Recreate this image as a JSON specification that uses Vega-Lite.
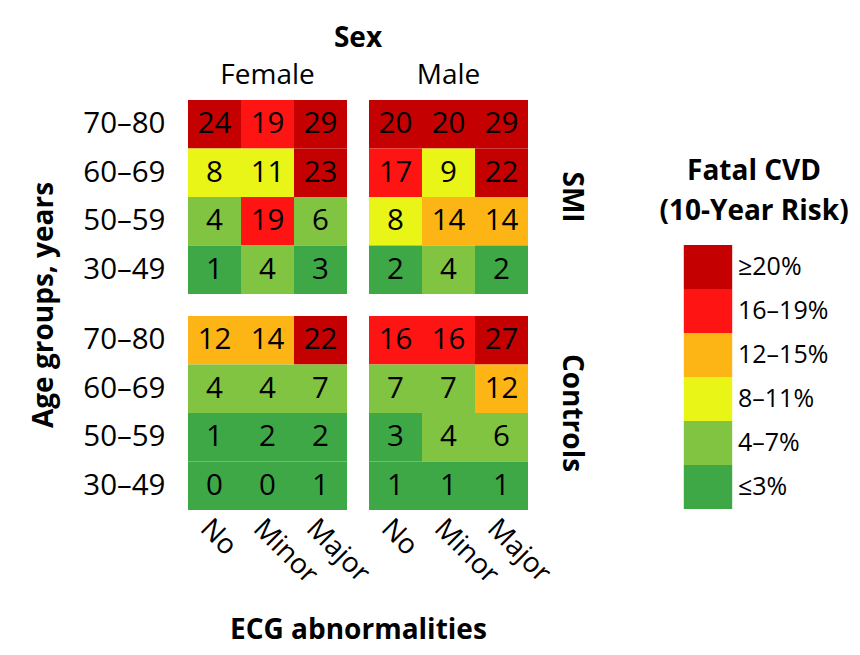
{
  "$schema": "https://vega.github.io/schema/vega-lite/v6.json",
  "background": "white",
  "padding": {"left": 30, "top": 25, "right": 5, "bottom": 5},
  "data": {
    "values": [
      {"group": "SMI", "sex": "Female", "age": "70–80", "ecg": "No", "risk": 24, "band": "≥20%"},
      {"group": "SMI", "sex": "Female", "age": "70–80", "ecg": "Minor", "risk": 19, "band": "16–19%"},
      {"group": "SMI", "sex": "Female", "age": "70–80", "ecg": "Major", "risk": 29, "band": "≥20%"},
      {"group": "SMI", "sex": "Female", "age": "60–69", "ecg": "No", "risk": 8, "band": "8–11%"},
      {"group": "SMI", "sex": "Female", "age": "60–69", "ecg": "Minor", "risk": 11, "band": "8–11%"},
      {"group": "SMI", "sex": "Female", "age": "60–69", "ecg": "Major", "risk": 23, "band": "≥20%"},
      {"group": "SMI", "sex": "Female", "age": "50–59", "ecg": "No", "risk": 4, "band": "4–7%"},
      {"group": "SMI", "sex": "Female", "age": "50–59", "ecg": "Minor", "risk": 19, "band": "16–19%"},
      {"group": "SMI", "sex": "Female", "age": "50–59", "ecg": "Major", "risk": 6, "band": "4–7%"},
      {"group": "SMI", "sex": "Female", "age": "30–49", "ecg": "No", "risk": 1, "band": "≤3%"},
      {"group": "SMI", "sex": "Female", "age": "30–49", "ecg": "Minor", "risk": 4, "band": "4–7%"},
      {"group": "SMI", "sex": "Female", "age": "30–49", "ecg": "Major", "risk": 3, "band": "≤3%"},
      {"group": "SMI", "sex": "Male", "age": "70–80", "ecg": "No", "risk": 20, "band": "≥20%"},
      {"group": "SMI", "sex": "Male", "age": "70–80", "ecg": "Minor", "risk": 20, "band": "≥20%"},
      {"group": "SMI", "sex": "Male", "age": "70–80", "ecg": "Major", "risk": 29, "band": "≥20%"},
      {"group": "SMI", "sex": "Male", "age": "60–69", "ecg": "No", "risk": 17, "band": "16–19%"},
      {"group": "SMI", "sex": "Male", "age": "60–69", "ecg": "Minor", "risk": 9, "band": "8–11%"},
      {"group": "SMI", "sex": "Male", "age": "60–69", "ecg": "Major", "risk": 22, "band": "≥20%"},
      {"group": "SMI", "sex": "Male", "age": "50–59", "ecg": "No", "risk": 8, "band": "8–11%"},
      {"group": "SMI", "sex": "Male", "age": "50–59", "ecg": "Minor", "risk": 14, "band": "12–15%"},
      {"group": "SMI", "sex": "Male", "age": "50–59", "ecg": "Major", "risk": 14, "band": "12–15%"},
      {"group": "SMI", "sex": "Male", "age": "30–49", "ecg": "No", "risk": 2, "band": "≤3%"},
      {"group": "SMI", "sex": "Male", "age": "30–49", "ecg": "Minor", "risk": 4, "band": "4–7%"},
      {"group": "SMI", "sex": "Male", "age": "30–49", "ecg": "Major", "risk": 2, "band": "≤3%"},
      {"group": "Controls", "sex": "Female", "age": "70–80", "ecg": "No", "risk": 12, "band": "12–15%"},
      {"group": "Controls", "sex": "Female", "age": "70–80", "ecg": "Minor", "risk": 14, "band": "12–15%"},
      {"group": "Controls", "sex": "Female", "age": "70–80", "ecg": "Major", "risk": 22, "band": "≥20%"},
      {"group": "Controls", "sex": "Female", "age": "60–69", "ecg": "No", "risk": 4, "band": "4–7%"},
      {"group": "Controls", "sex": "Female", "age": "60–69", "ecg": "Minor", "risk": 4, "band": "4–7%"},
      {"group": "Controls", "sex": "Female", "age": "60–69", "ecg": "Major", "risk": 7, "band": "4–7%"},
      {"group": "Controls", "sex": "Female", "age": "50–59", "ecg": "No", "risk": 1, "band": "≤3%"},
      {"group": "Controls", "sex": "Female", "age": "50–59", "ecg": "Minor", "risk": 2, "band": "≤3%"},
      {"group": "Controls", "sex": "Female", "age": "50–59", "ecg": "Major", "risk": 2, "band": "≤3%"},
      {"group": "Controls", "sex": "Female", "age": "30–49", "ecg": "No", "risk": 0, "band": "≤3%"},
      {"group": "Controls", "sex": "Female", "age": "30–49", "ecg": "Minor", "risk": 0, "band": "≤3%"},
      {"group": "Controls", "sex": "Female", "age": "30–49", "ecg": "Major", "risk": 1, "band": "≤3%"},
      {"group": "Controls", "sex": "Male", "age": "70–80", "ecg": "No", "risk": 16, "band": "16–19%"},
      {"group": "Controls", "sex": "Male", "age": "70–80", "ecg": "Minor", "risk": 16, "band": "16–19%"},
      {"group": "Controls", "sex": "Male", "age": "70–80", "ecg": "Major", "risk": 27, "band": "≥20%"},
      {"group": "Controls", "sex": "Male", "age": "60–69", "ecg": "No", "risk": 7, "band": "4–7%"},
      {"group": "Controls", "sex": "Male", "age": "60–69", "ecg": "Minor", "risk": 7, "band": "4–7%"},
      {"group": "Controls", "sex": "Male", "age": "60–69", "ecg": "Major", "risk": 12, "band": "12–15%"},
      {"group": "Controls", "sex": "Male", "age": "50–59", "ecg": "No", "risk": 3, "band": "≤3%"},
      {"group": "Controls", "sex": "Male", "age": "50–59", "ecg": "Minor", "risk": 4, "band": "4–7%"},
      {"group": "Controls", "sex": "Male", "age": "50–59", "ecg": "Major", "risk": 6, "band": "4–7%"},
      {"group": "Controls", "sex": "Male", "age": "30–49", "ecg": "No", "risk": 1, "band": "≤3%"},
      {"group": "Controls", "sex": "Male", "age": "30–49", "ecg": "Minor", "risk": 1, "band": "≤3%"},
      {"group": "Controls", "sex": "Male", "age": "30–49", "ecg": "Major", "risk": 1, "band": "≤3%"}
    ]
  },
  "title": {
    "text": "ECG abnormalities",
    "orient": "bottom",
    "anchor": "start",
    "frame": "group",
    "dx": 42,
    "font": "Open Sans",
    "fontSize": 28,
    "fontWeight": "bold",
    "color": "black",
    "offset": 28
  },
  "facet": {
    "row": {
      "field": "group",
      "type": "nominal",
      "sort": ["SMI", "Controls"],
      "title": "Age groups, years",
      "header": {
        "labelOrient": "right",
        "labelAngle": 90,
        "labelFont": "Open Sans",
        "labelFontSize": 28,
        "labelFontWeight": "bold",
        "labelColor": "black",
        "labelPadding": 29,
        "titleOrient": "left",
        "titleFont": "Open Sans",
        "titleFontSize": 28,
        "titleFontWeight": "bold",
        "titleColor": "black",
        "titlePadding": 13
      }
    },
    "column": {
      "field": "sex",
      "type": "nominal",
      "sort": ["Female", "Male"],
      "title": "Sex",
      "header": {
        "labelFont": "Open Sans",
        "labelFontSize": 28,
        "labelColor": "black",
        "labelPadding": 10,
        "titleFont": "Open Sans",
        "titleFontSize": 28,
        "titleFontWeight": "bold",
        "titleColor": "black",
        "titlePadding": -1
      }
    }
  },
  "spacing": {"row": 22, "column": 22},
  "spec": {
    "width": 159,
    "height": 194,
    "encoding": {
      "x": {
        "field": "ecg",
        "type": "ordinal",
        "sort": ["No", "Minor", "Major"],
        "scale": {"paddingInner": 0, "paddingOuter": 0},
        "axis": {"title": null, "labelAngle": 45, "labelAlign": "left", "labelBaseline": "top", "labelPadding": 4}
      },
      "y": {
        "field": "age",
        "type": "ordinal",
        "sort": ["70–80", "60–69", "50–59", "30–49"],
        "scale": {"paddingInner": 0, "paddingOuter": 0},
        "axis": {"title": null, "labelPadding": 23, "labelFontSize": 29.5}
      }
    },
    "layer": [
      {
        "mark": {"type": "rect", "strokeWidth": 0},
        "encoding": {
          "color": {
            "field": "band",
            "type": "nominal",
            "scale": {
              "domain": ["≥20%", "16–19%", "12–15%", "8–11%", "4–7%", "≤3%"],
              "range": ["#c40000", "#fe1513", "#fdb515", "#e8f516", "#80c442", "#3ea846"]
            },
            "legend": {
              "title": ["Fatal CVD", "(10-Year Risk)"],
              "orient": "none",
              "legendX": 471,
              "legendY": 58,
              "titleFont": "Open Sans",
              "titleFontSize": 28,
              "titleFontWeight": "bold",
              "titleColor": "black",
              "titleAlign": "center",
              "titleAnchor": "middle",
              "titleLimit": 400,
              "titlePadding": 19,
              "titleLineHeight": 40,
              "labelFont": "Open Sans",
              "labelFontSize": 25,
              "labelColor": "black",
              "labelOffset": 8,
              "labelLimit": 300,
              "symbolType": "M-1.1,-1H1.1V1H-1.1Z",
              "symbolSize": 1936,
              "symbolOpacity": 1,
              "symbolStrokeWidth": 0,
              "symbolOffset": 6,
              "rowPadding": 0
            }
          }
        }
      },
      {
        "mark": {"type": "text", "font": "Open Sans", "fontSize": 29.5, "color": "black"},
        "encoding": {"text": {"field": "risk", "type": "quantitative"}}
      }
    ]
  },
  "config": {
    "view": {"stroke": null},
    "axis": {
      "domain": false,
      "ticks": false,
      "grid": false,
      "labelFont": "Open Sans",
      "labelFontSize": 28,
      "labelColor": "black"
    }
  }
}
